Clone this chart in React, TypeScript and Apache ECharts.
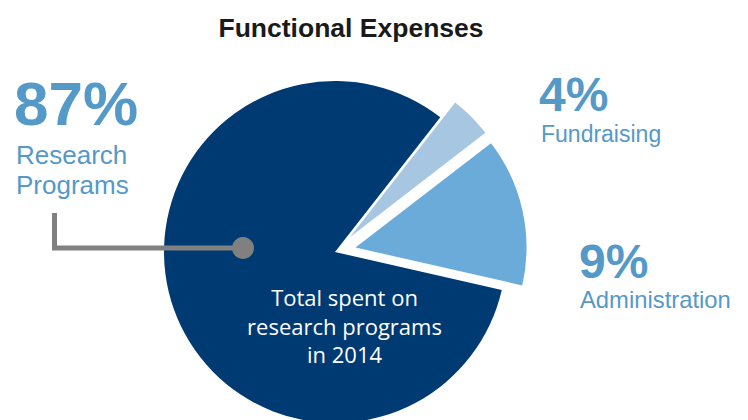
import React, { useEffect, useRef } from "react";
import * as echarts from "echarts";

const categories = ["Fundraising", "Administration", "Research Programs"];
// slice sizes as drawn in the picture (percent of the circle)
const sliceValues = [4, 14, 82];
// percentages printed on the labels
const labelPercents = ["4%", "9%", "87%"];
const sliceColors = ["#a7c6e2", "#6aabda", "#003a73"];
const centerLines = ["Total spent on", "research programs", "in 2014"];

export default function App() {
  const ref = useRef<HTMLDivElement>(null);
  useEffect(() => {
    if (!ref.current) return;
    const chart = echarts.init(ref.current, undefined, { renderer: "svg" });
    const blue = "#5499c8";
    const font = "Liberation Sans, Arial, sans-serif";
    chart.setOption({
      animation: false,
      backgroundColor: "#ffffff",
      title: {
        text: "Functional Expenses",
        left: 346,
        textAlign: "center",
        top: 9,
        textStyle: { fontSize: 26.5, fontWeight: "bold", color: "#1a1a1a", fontFamily: font },
      },
      series: [
        {
          type: "pie",
          center: [335, 252],
          radius: 171,
          startAngle: 52,
          clockwise: true,
          selectedMode: "multiple",
          selectedOffset: 21,
          silent: true,
          label: { show: false },
          labelLine: { show: false },
          emphasis: { disabled: true },
          data: categories.map((name, i) => ({
            name,
            value: sliceValues[i],
            selected: i < 2,
            itemStyle: { color: sliceColors[i] },
          })),
        },
      ],
      graphic: [
        {
          type: "polyline",
          shape: { points: [[54.5, 213], [54.5, 248], [243, 248]] },
          style: { stroke: "#808080", lineWidth: 5, fill: null },
          z: 10,
        },
        { type: "circle", shape: { cx: 243, cy: 248, r: 11 }, style: { fill: "#808080" }, z: 10 },
        {
          type: "text", x: 14, y: 72,
          style: { text: labelPercents[2], fill: blue, font: `bold 62px ${font}` },
        },
        {
          type: "text", x: 16, y: 140,
          style: { text: "Research\nPrograms", fill: blue, font: `26px ${font}`, lineHeight: 30 },
        },
        {
          type: "text", x: 539, y: 70,
          style: { text: labelPercents[0], fill: blue, font: `bold 48px ${font}` },
        },
        {
          type: "text", x: 541, y: 122,
          style: { text: "Fundraising", fill: blue, font: `23px ${font}` },
        },
        {
          type: "text", x: 579, y: 237,
          style: { text: labelPercents[1], fill: blue, font: `bold 48px ${font}` },
        },
        {
          type: "text", x: 580, y: 287,
          style: { text: "Administration", fill: blue, font: `23.8px ${font}` },
        },
        {
          type: "text", x: 344.5, y: 283, z: 10,
          style: {
            text: centerLines.join("\n"),
            fill: "#ffffff",
            font: `22px "Open Sans", sans-serif`,
            lineHeight: 28.5,
            textAlign: "center",
          },
        },
      ],
    });
    return () => chart.dispose();
  }, []);
  return <div ref={ref} style={{ position: "absolute", left: 0, top: 0, width: 748, height: 420 }} />;
}
